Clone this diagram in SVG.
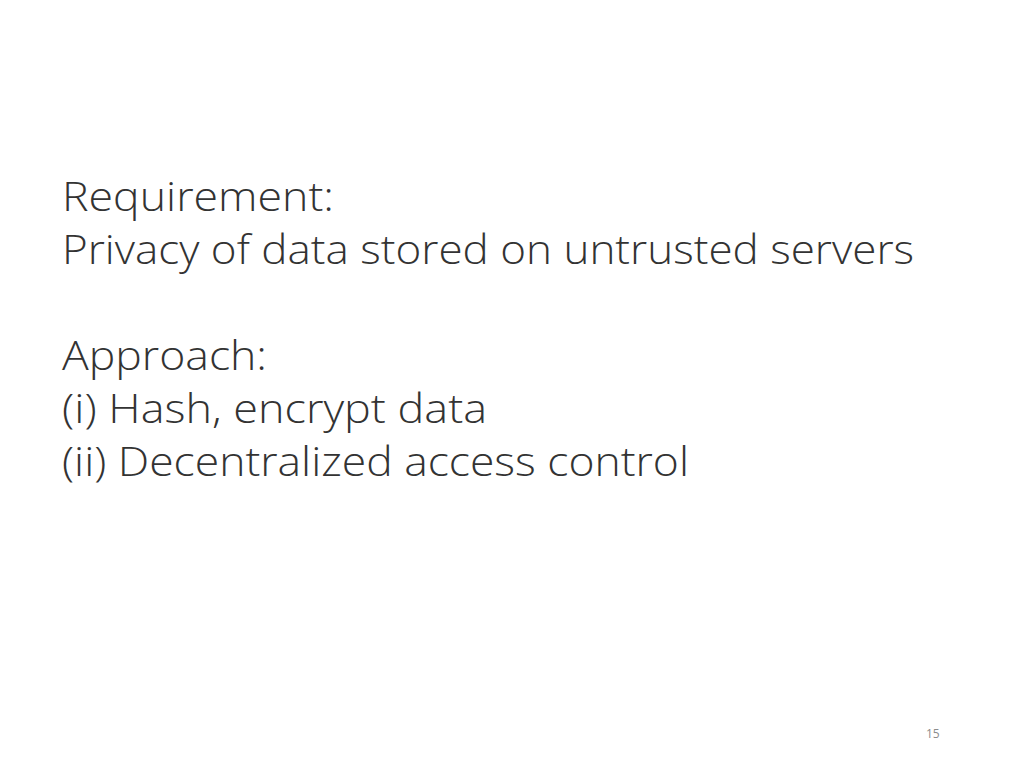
<svg xmlns="http://www.w3.org/2000/svg" width="1024" height="768" viewBox="0 0 1024 768">
<style>
.t{font-family:"Open Sans","Noto Sans",sans-serif;font-weight:300;font-size:40px;fill:#333}
.n{font-family:"Open Sans","Noto Sans",sans-serif;font-size:12px;fill:#8c8c8c}
</style>
<rect width="1024" height="768" fill="#fff"/>
<g id="body">
<text class="t" x="62" y="211" textLength="272" lengthAdjust="spacingAndGlyphs">Requirement:</text>
<text class="t" x="62" y="264" textLength="852" lengthAdjust="spacingAndGlyphs">Privacy of data stored on untrusted servers</text>
<text class="t" x="62" y="370" textLength="205" lengthAdjust="spacingAndGlyphs">Approach:</text>
<text class="t" x="62" y="423" textLength="425" lengthAdjust="spacingAndGlyphs">(i) Hash, encrypt data</text>
<text class="t" x="62" y="476" textLength="627" lengthAdjust="spacingAndGlyphs">(ii) Decentralized access control</text>
</g>
<text class="n" x="926" y="738">15</text>
</svg>
